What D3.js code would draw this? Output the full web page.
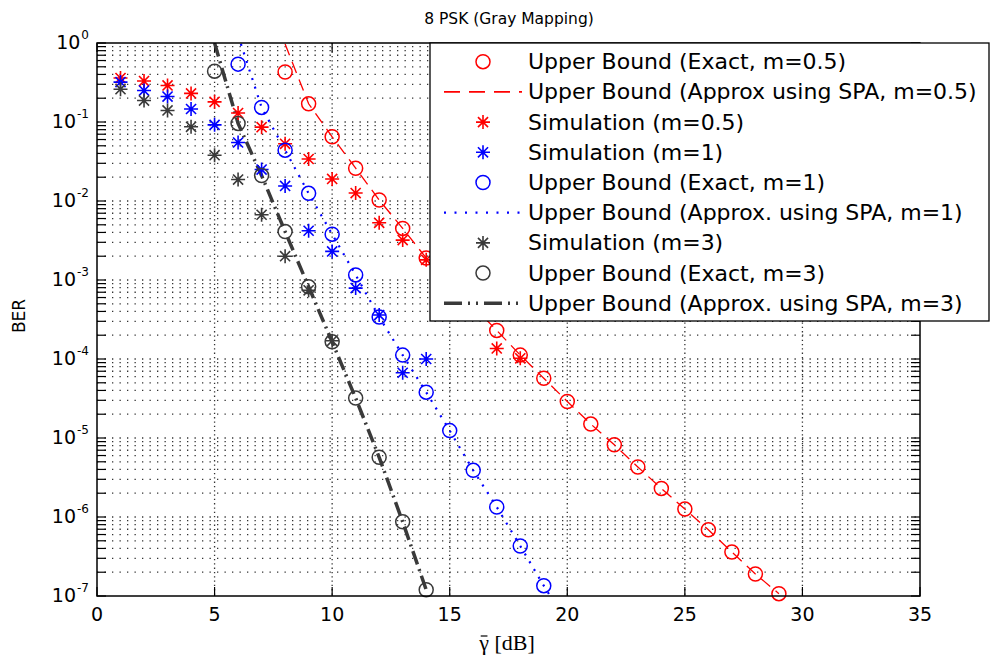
<!DOCTYPE html>
<html>
<head>
<meta charset="utf-8">
<script src="https://cdn.jsdelivr.net/npm/d3@7"></script>
<style>
body { margin: 0; background: #fff; }
text { font-family: "DejaVu Sans", sans-serif; fill: #000; }
</style>
</head>
<body>
<div id="chart"></div>
<script>
// gamma bar [dB] and BER, one pair of arrays per curve
var snrExact05 = [8, 9, 10, 11, 12, 13, 14, 17, 18, 19, 20, 21, 22, 23, 24, 25, 26, 27, 28, 29];
var berExact05 = [0.43, 0.17, 0.065, 0.026, 0.0103, 0.0045, 0.0019, 2.3e-4, 1.12e-4, 5.7e-5, 2.9e-5, 1.5e-5, 8.2e-6, 4.3e-6, 2.3e-6, 1.26e-6, 6.9e-7, 3.6e-7, 1.9e-7, 1.07e-7];
var snrSpa05 = [8, 9, 10, 11, 12, 13, 14, 17, 18, 19, 20, 21, 22, 23, 24, 25, 26, 27, 28, 29];
var berSpa05 = [0.97, 0.17, 0.065, 0.026, 0.0103, 0.0045, 0.0019, 2.3e-4, 1.12e-4, 5.7e-5, 2.9e-5, 1.5e-5, 8.2e-6, 4.3e-6, 2.3e-6, 1.26e-6, 6.9e-7, 3.6e-7, 1.9e-7, 1.07e-7];
var snrSim05 = [1, 2, 3, 4, 5, 6, 7, 8, 9, 10, 11, 12, 13, 14, 17, 18];
var berSim05 = [0.36, 0.33, 0.29, 0.23, 0.18, 0.13, 0.086, 0.053, 0.034, 0.019, 0.0126, 0.0053, 0.0032, 0.0018, 1.36e-4, 1.02e-4];

var snrSim1 = [1, 2, 3, 4, 5, 6, 7, 8, 9, 10, 11, 12, 13, 14];
var berSim1 = [0.32, 0.25, 0.21, 0.146, 0.092, 0.055, 0.025, 0.0155, 0.0042, 0.0023, 7.9e-4, 3.6e-4, 6.7e-5, 1.0e-4];
var snrExact1 = [6, 7, 8, 9, 10, 11, 12, 13, 14, 15, 16, 17, 18, 19];
var berExact1 = [0.54, 0.153, 0.044, 0.0125, 0.0038, 1.16e-3, 3.4e-4, 1.12e-4, 3.8e-5, 1.24e-5, 3.9e-6, 1.34e-6, 4.3e-7, 1.35e-7];
var snrSpa1 = [6, 7, 8, 9, 10, 11, 12, 13, 14, 15, 16, 17, 18, 19, 20];
var berSpa1 = [1.25, 0.153, 0.044, 0.0125, 0.0038, 1.16e-3, 3.4e-4, 1.12e-4, 3.8e-5, 1.24e-5, 3.9e-6, 1.34e-6, 4.3e-7, 1.35e-7, 4.5e-8];

var snrSim3 = [1, 2, 3, 4, 5, 6, 7, 8, 9, 10];
var berSim3 = [0.26, 0.187, 0.14, 0.087, 0.038, 0.0187, 0.0067, 0.002, 7.4e-4, 1.7e-4];
var snrExact3 = [5, 6, 7, 8, 9, 10, 11, 12, 13, 14];
var berExact3 = [0.44, 0.096, 0.021, 0.0041, 8.2e-4, 1.65e-4, 3.2e-5, 5.7e-6, 8.7e-7, 1.2e-7];
var snrSpa3 = [5, 6, 7, 8, 9, 10, 11, 12, 13, 14];
var berSpa3 = [1.0, 0.096, 0.021, 0.0041, 8.2e-4, 1.65e-4, 3.2e-5, 5.7e-6, 8.7e-7, 1.2e-7];

var xTicks = [0, 5, 10, 15, 20, 25, 30, 35];
var yExponents = [0, -1, -2, -3, -4, -5, -6, -7];

var legendLabels = [
    "Upper Bound (Exact, m=0.5)",
    "Upper Bound (Approx using SPA, m=0.5)",
    "Simulation (m=0.5)",
    "Simulation (m=1)",
    "Upper Bound (Exact, m=1)",
    "Upper Bound (Approx. using SPA, m=1)",
    "Simulation (m=3)",
    "Upper Bound (Exact, m=3)",
    "Upper Bound (Approx. using SPA, m=3)"
];

var RED = "#ff0000", BLUE = "#0000ff", DARK = "#3a3a3a";

function zip(xs, ys) {
    return xs.map(function(v, i) { return {x: v, y: ys[i]}; });
}

// matlab '*' marker: plus and cross on top of each other
function starPath(r) {
    var a = r * 0.72;
    return "M" + (-r) + ",0L" + r + ",0M0," + (-r) + "L0," + r +
        "M" + (-a) + "," + (-a) + "L" + a + "," + a +
        "M" + (-a) + "," + a + "L" + a + "," + (-a);
}

// series in drawing order: lines first, markers on top
var lineSeries = [
    {data: zip(snrSpa05, berSpa05), color: RED, width: 1.3, dash: "12,7"},
    {data: zip(snrSpa1, berSpa1), color: BLUE, width: 2.2, dash: "2,7"},
    {data: zip(snrSpa3, berSpa3), color: DARK, width: 3.5, dash: "14,5,2,5"}
];
var markerSeries = [
    {data: zip(snrExact05, berExact05), color: RED, type: "circle"},
    {data: zip(snrSim05, berSim05), color: RED, type: "star"},
    {data: zip(snrSim1, berSim1), color: BLUE, type: "star"},
    {data: zip(snrExact1, berExact1), color: BLUE, type: "circle"},
    {data: zip(snrSim3, berSim3), color: DARK, type: "star"},
    {data: zip(snrExact3, berExact3), color: DARK, type: "circle"}
];

var legendItems = [
    {color: RED, type: "circle"},
    {color: RED, type: "line", width: 1.6, dash: "16,9"},
    {color: RED, type: "star"},
    {color: BLUE, type: "star"},
    {color: BLUE, type: "circle"},
    {color: BLUE, type: "line", width: 2.2, dash: "2,8.5"},
    {color: DARK, type: "star"},
    {color: DARK, type: "circle"},
    {color: DARK, type: "line", width: 3.5, dash: "18,6,2,6,2,6"}
];

var W = 993, H = 664;
var plotL = 97, plotR = 920, plotT = 43, plotB = 596;

var svg = d3.select("#chart").append("svg")
    .attr("width", W).attr("height", H);

var x = d3.scaleLinear().domain([0, 35]).range([plotL, plotR]);
var y = d3.scaleLog().domain([1e-7, 1]).range([plotB, plotT]);

// every 1..9 x 10^k value for the log grid and ticks
var yMinor = [];
for (var e = -7; e < 0; e++) {
    for (var m = 1; m < 10; m++) yMinor.push(m * Math.pow(10, e));
}
yMinor.push(1);

// grid
var grid = svg.append("g");
grid.selectAll("line.gy").data(yMinor.slice(1, -1)).enter().append("line")
    .attr("x1", plotL).attr("x2", plotR)
    .attr("y1", function(d) { return y(d); }).attr("y2", function(d) { return y(d); })
    .attr("stroke", "#333").attr("stroke-width", 1.3).attr("stroke-dasharray", "1.3,6.2");
grid.selectAll("line.gx").data(xTicks.slice(1, -1)).enter().append("line")
    .attr("y1", plotT).attr("y2", plotB)
    .attr("x1", function(d) { return x(d); }).attr("x2", function(d) { return x(d); })
    .attr("stroke", "#333").attr("stroke-width", 1.3).attr("stroke-dasharray", "1.3,3");

// ticks on all four sides, pointing inwards
var ticks = svg.append("g").attr("stroke", "#000").attr("stroke-width", 1.2);
ticks.selectAll("line.tl").data(yMinor).enter().append("line")
    .attr("x1", plotL).attr("x2", plotL + 9)
    .attr("y1", function(d) { return y(d); }).attr("y2", function(d) { return y(d); });
ticks.selectAll("line.tr").data(yMinor).enter().append("line")
    .attr("x1", plotR).attr("x2", plotR - 9)
    .attr("y1", function(d) { return y(d); }).attr("y2", function(d) { return y(d); });
ticks.selectAll("line.tb").data(xTicks).enter().append("line")
    .attr("y1", plotB).attr("y2", plotB - 9)
    .attr("x1", function(d) { return x(d); }).attr("x2", function(d) { return x(d); });
ticks.selectAll("line.tt").data(xTicks).enter().append("line")
    .attr("y1", plotT).attr("y2", plotT + 9)
    .attr("x1", function(d) { return x(d); }).attr("x2", function(d) { return x(d); });

// curves, clipped to the axes box
svg.append("clipPath").attr("id", "plotclip").append("rect")
    .attr("x", plotL).attr("y", plotT).attr("width", plotR - plotL).attr("height", plotB - plotT);

var line = d3.line()
    .x(function(d) { return x(d.x); })
    .y(function(d) { return y(d.y); });

svg.append("g").attr("clip-path", "url(#plotclip)")
    .selectAll("path").data(lineSeries).enter().append("path")
    .attr("d", function(d) { return line(d.data); })
    .attr("fill", "none")
    .attr("stroke", function(d) { return d.color; })
    .attr("stroke-width", function(d) { return d.width; })
    .attr("stroke-dasharray", function(d) { return d.dash; });

function drawMarker(g, type, color) {
    if (type === "circle") {
        g.append("circle").attr("r", 7).attr("fill", "none")
            .attr("stroke", color).attr("stroke-width", 1.5);
    } else {
        g.append("path").attr("d", starPath(7)).attr("fill", "none")
            .attr("stroke", color).attr("stroke-width", 1.6);
    }
}

markerSeries.forEach(function(s) {
    svg.append("g").selectAll("g").data(s.data).enter().append("g")
        .attr("transform", function(d) { return "translate(" + x(d.x) + "," + y(d.y) + ")"; })
        .each(function() { drawMarker(d3.select(this), s.type, s.color); });
});

// axes box
svg.append("rect")
    .attr("x", plotL).attr("y", plotT).attr("width", plotR - plotL).attr("height", plotB - plotT)
    .attr("fill", "none").attr("stroke", "#000").attr("stroke-width", 1.5);

// tick labels
svg.append("g").selectAll("text").data(xTicks).enter().append("text")
    .attr("x", function(d) { return x(d); })
    .attr("y", 621)
    .attr("text-anchor", "middle")
    .style("font-size", "19px")
    .text(function(d) { return d; });

var yl = svg.append("g").selectAll("text").data(yExponents).enter().append("text")
    .attr("x", 89)
    .attr("y", function(d) { return y(Math.pow(10, d)) + 6; })
    .attr("text-anchor", "end")
    .style("font-size", "19px");
yl.append("tspan").text("10");
yl.append("tspan").attr("dx", 1).attr("dy", -10).style("font-size", "12px")
    .text(function(d) { return d === 0 ? "0" : "-" + (-d); });

// titles
svg.append("text").attr("x", 509).attr("y", 24).attr("text-anchor", "middle")
    .style("font-size", "15.5px").text("8 PSK (Gray Mapping)");

svg.append("text").attr("transform", "translate(25,316) rotate(-90)")
    .attr("text-anchor", "middle").style("font-size", "17px").text("BER");

var xlab = svg.append("text").attr("x", 507).attr("y", 650).attr("text-anchor", "middle")
    .style("font-family", "'Liberation Serif', 'Times New Roman', serif")
    .style("font-size", "22px").text("\u03b3 [dB]");
// bar over the gamma
var g0 = xlab.node().getExtentOfChar(0);
svg.append("line")
    .attr("x1", g0.x + 1.5).attr("x2", g0.x + g0.width - 1.5)
    .attr("y1", 636).attr("y2", 636)
    .attr("stroke", "#000").attr("stroke-width", 1.2);

// legend box
var legend = svg.append("g");
legend.append("rect")
    .attr("x", 430).attr("y", 43).attr("width", 559).attr("height", 278)
    .attr("fill", "#fff").attr("stroke", "#000").attr("stroke-width", 1.3);

var rows = legend.selectAll("g.row").data(legendItems).enter().append("g")
    .attr("transform", function(d, i) { return "translate(0," + (61.7 + i * 30.2) + ")"; });

rows.each(function(d) {
    var g = d3.select(this);
    if (d.type === "line") {
        g.append("line").attr("x1", 444).attr("x2", 522).attr("y1", 0).attr("y2", 0)
            .attr("stroke", d.color).attr("stroke-width", d.width)
            .attr("stroke-dasharray", d.dash);
    } else {
        drawMarker(g.append("g").attr("transform", "translate(483,0)"), d.type, d.color);
    }
});

rows.append("text")
    .attr("x", 528).attr("y", 7.5)
    .style("font-size", "22px")
    .text(function(d, i) { return legendLabels[i]; });
</script>
</body>
</html>
